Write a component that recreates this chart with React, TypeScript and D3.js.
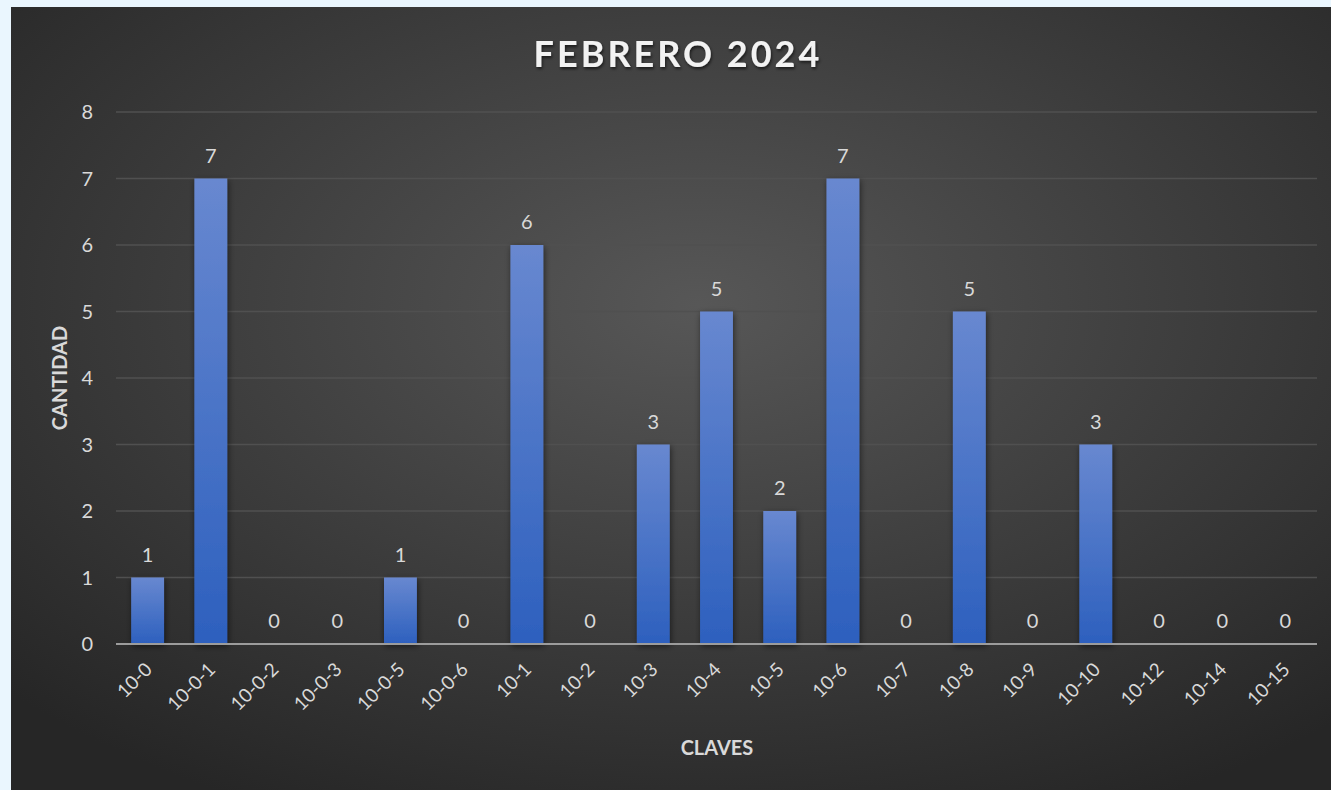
import React from "react";
import * as d3 from "d3";

const claves = ["10-0", "10-0-1", "10-0-2", "10-0-3", "10-0-5", "10-0-6", "10-1", "10-2", "10-3", "10-4",
  "10-5", "10-6", "10-7", "10-8", "10-9", "10-10", "10-12", "10-14", "10-15"];
const cantidad = [1, 7, 0, 0, 1, 0, 6, 0, 3, 5, 2, 7, 0, 5, 0, 3, 0, 0, 0];
const yTicks = [0, 1, 2, 3, 4, 5, 6, 7, 8];

const FONT = "Lato, 'Open Sans', sans-serif";

export default function App() {
  const width = 1331, height = 790;
  const left = 116, right = 1317, top = 112, bottom = 644;

  const data = claves.map((c, i) => ({ clave: c, value: cantidad[i] }));

  // x scale
  const x = d3.scaleBand<string>()
    .domain(claves)
    .range([left, right])
    .paddingInner(0.48)
    .paddingOuter(0.24);

  // y scale
  const y = d3.scaleLinear().domain([0, 8]).range([bottom, top]);

  return (
    <svg width={width} height={height} style={{ position: "absolute", left: 0, top: 0 }}>
      <defs>
        <radialGradient id="bg" cx="0.52" cy="0.38" r="0.72">
          <stop offset="0" stopColor="#575757" />
          <stop offset="1" stopColor="#262626" />
        </radialGradient>
        <linearGradient id="bar" x1="0" y1="0" x2="0" y2="1">
          <stop offset="0" stopColor="#6888d0" />
          <stop offset="1" stopColor="#2d60be" />
        </linearGradient>
        <filter id="shadow" x="-50%" y="-10%" width="200%" height="120%">
          <feDropShadow dx="1" dy="2" stdDeviation="3" floodColor="#000" floodOpacity="0.55" />
        </filter>
        <filter id="tshadow" x="-10%" y="-30%" width="120%" height="160%">
          <feDropShadow dx="1" dy="2" stdDeviation="1.5" floodColor="#000" floodOpacity="0.6" />
        </filter>
      </defs>
      <rect x={0} y={0} width={width} height={height} fill="#eaf6fe" />
      <rect x={11} y={7} width={width - 11} height={height - 7} fill="url(#bg)" />

      <text x={678} y={67} textAnchor="middle" fontFamily={FONT} fontWeight="bold" fontSize={36}
        letterSpacing={3} fill="#f2f2f2" filter="url(#tshadow)">FEBRERO 2024</text>

      {/* gridlines + y ticks */}
      {yTicks.map(t => (
        <g key={t}>
          {t > 0 && <line x1={left} x2={right} y1={y(t)} y2={y(t)} stroke="#505050" strokeWidth={1.5} />}
          <text x={93} y={y(t)} dy="0.35em" textAnchor="end" fontFamily={FONT} fontSize={20}
            fill="#d9d9d9">{t}</text>
        </g>
      ))}

      {/* bars */}
      <g filter="url(#shadow)">
        {data.filter(d => d.value > 0).map(d => (
          <rect key={d.clave} x={x(d.clave)} y={y(d.value)} width={x.bandwidth()}
            height={y(0) - y(d.value)} fill="url(#bar)" />
        ))}
      </g>

      <line x1={left} x2={right} y1={bottom} y2={bottom} stroke="#9c9c9c" strokeWidth={2} />

      {/* value labels */}
      {data.map(d => (
        <text key={"v" + d.clave} x={(x(d.clave) ?? 0) + x.bandwidth() / 2} y={y(d.value) - 16}
          textAnchor="middle" fontFamily={FONT} fontSize={20} fill="#d9d9d9">{d.value}</text>
      ))}

      {/* x labels */}
      {claves.map(c => (
        <text key={"x" + c} transform={`translate(${(x(c) ?? 0) + x.bandwidth() / 2 + 1},${bottom + 22}) rotate(-45)`}
          textAnchor="end" dy="0.35em" fontFamily={FONT} fontSize={19} fill="#d9d9d9">{c}</text>
      ))}

      <text transform={`translate(67,${(top + bottom) / 2}) rotate(-90)`} textAnchor="middle"
        fontFamily={FONT} fontWeight="bold" fontSize={20} fill="#d9d9d9">CANTIDAD</text>
      <text x={717} y={755} textAnchor="middle" fontFamily={FONT} fontWeight="bold" fontSize={20}
        fill="#d9d9d9">CLAVES</text>
    </svg>
  );
}
